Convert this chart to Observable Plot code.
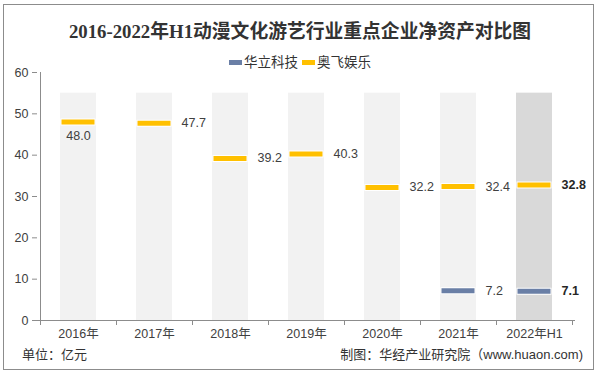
<!DOCTYPE html>
<html><head><meta charset="utf-8">
<script src="https://cdn.jsdelivr.net/npm/d3@7"></script>
<script src="https://cdn.jsdelivr.net/npm/@observablehq/plot@0.6"></script>
<style>
body{margin:0;background:#fff;}
#wrap{position:relative;width:600px;height:376px;overflow:hidden;font-family:"Liberation Sans",Arial,"Noto Sans CJK SC",sans-serif;color:#333;}
#frame{position:absolute;left:3px;top:4px;width:591px;height:366px;border:1px solid #8c8c8c;box-sizing:border-box;}
#title{position:absolute;left:0;top:16px;width:600px;text-align:center;font:bold 18.8px "Liberation Serif","Noto Sans CJK SC",serif;color:#333;}
#legend{position:absolute;left:0;top:51px;width:600px;text-align:center;font-size:13.5px;color:#333;}
#legend span.item{display:inline-block;margin:0 2px;}
#legend i{display:inline-block;width:13px;height:5px;vertical-align:middle;margin-right:2px;position:relative;top:-1px;}
#plot{position:absolute;left:0;top:0;}
#unit{position:absolute;left:22px;top:344px;font-size:13px;color:#333;}
#src{position:absolute;right:17px;top:344px;font-size:13px;color:#333;}
</style></head>
<body>
<div id="wrap">
  <div id="frame"></div>
  <div id="plot"></div>
  <div id="title">2016-2022年H1动漫文化游艺行业重点企业净资产对比图</div>
  <div id="legend"></div>
  <div id="unit">单位：亿元</div>
  <div id="src">制图：华经产业研究院（www.huaon.com)</div>
</div>
<script>
const years = ["2016年","2017年","2018年","2019年","2020年","2021年","2022年H1"];
const huali = [null, null, null, null, null, 7.2, 7.1];
const aofei = [48.0, 47.7, 39.2, 40.3, 32.2, 32.4, 32.8];
const seriesNames = ["华立科技", "奥飞娱乐"];
const seriesColors = ["#6a7fa6", "#ffc000"];
const bgTop = 55;
const yTicks = [0, 10, 20, 30, 40, 50, 60];

const bgRows = years.map((year, i) => ({year, top: bgTop, fill: i === years.length - 1 ? "#d9d9d9" : "#f2f2f2"}));
const rows = [];
years.forEach((year, i) => {
  if (huali[i] != null) rows.push({year, i, series: seriesNames[0], value: huali[i]});
  if (aofei[i] != null) rows.push({year, i, series: seriesNames[1], value: aofei[i]});
});
const last = years.length - 1;
const rightLabels = rows.filter(d => !(d.i === 0 && d.series === seriesNames[1]));
const belowLabels = rows.filter(d => d.i === 0 && d.series === seriesNames[1]);

const legend = document.getElementById("legend");
legend.innerHTML = seriesNames.map((n, k) => `<span class="item"><i style="background:${seriesColors[k]}"></i>${n}</span>`).join("");

const axisLines = (index, scales) => {
  const x = scales.x, y = scales.y;
  const g = d3.create("svg:g");
  const bw = x.bandwidth();
  const xs = years.map(d => x(d)).concat([x(years[last]) + bw]);
  const y0 = y(0);
  g.selectAll("line.t").data(xs).join("line").attr("class", "t")
    .attr("x1", d => d + 0.5).attr("x2", d => d + 0.5)
    .attr("y1", y0).attr("y2", y0 + 5).attr("stroke", "#8c8c8c");
  g.append("line").attr("x1", xs[0] + 0.5).attr("x2", xs[0] + 0.5)
    .attr("y1", y(yTicks[yTicks.length - 1])).attr("y2", y0).attr("stroke", "#8c8c8c");
  return g.node();
};

const chart = Plot.plot({
  width: 600,
  height: 376,
  marginTop: 72,
  marginBottom: 56,
  marginLeft: 37,
  marginRight: 25,
  style: {fontFamily: "'Liberation Sans', Arial, 'Noto Sans CJK SC', sans-serif", fontSize: "12px", color: "#404040", background: "transparent"},
  x: {type: "band", domain: years, padding: 0, label: null},
  y: {domain: [0, 60], label: null},
  color: {domain: seriesNames, range: seriesColors},
  marks: [
    Plot.barY(bgRows, {x: "year", y: "top", fill: "fill", insetLeft: 20, insetRight: 20}),
    Plot.ruleY([0], {stroke: "#8c8c8c"}),
    axisLines,
    Plot.axisY({ticks: yTicks, tickSize: 5, tickPadding: 4, stroke: "#8c8c8c", fontSize: 12.5, fill: "#404040", label: null}),
    Plot.axisX({tickSize: 0, tickPadding: 9, fontSize: 12.5, fill: "#404040", label: null}),
    Plot.tickY(rows, {x: "year", y: "value", stroke: "white", strokeWidth: 7, insetLeft: 20.5, insetRight: 20.5}),
    Plot.tickY(rows, {x: "year", y: "value", stroke: "series", strokeWidth: 5, insetLeft: 21.5, insetRight: 21.5}),
    Plot.text(rightLabels.filter(d => d.i !== last), {x: "year", y: "value", text: d => d.value.toFixed(1), dx: 27, textAnchor: "start", fontSize: 12.5, fill: "#404040"}),
    Plot.text(rightLabels.filter(d => d.i === last), {x: "year", y: "value", text: d => d.value.toFixed(1), dx: 27, textAnchor: "start", fontSize: 12.5, fontWeight: "bold", fill: "#262626"}),
    Plot.text(belowLabels, {x: "year", y: "value", text: d => d.value.toFixed(1), dy: 14, textAnchor: "middle", fontSize: 12.5, fill: "#404040"})
  ]
});
document.getElementById("plot").appendChild(chart);
</script>
</body></html>
